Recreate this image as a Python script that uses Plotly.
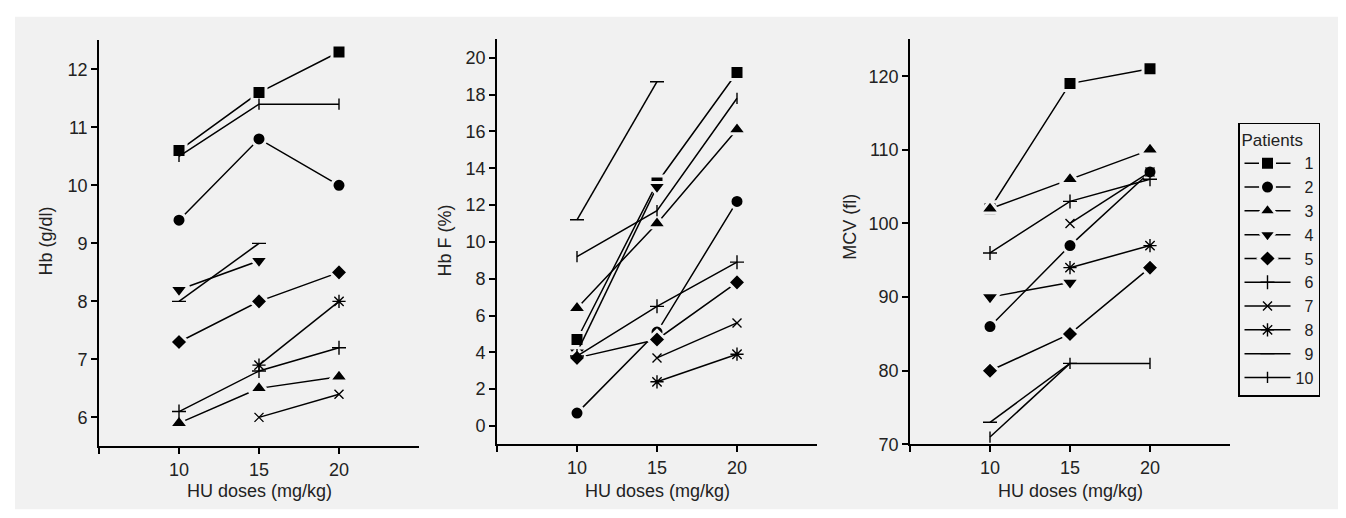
import plotly.graph_objects as go

W, H = 1346, 518

doses = [10, 15, 20]
patients = ["1", "2", "3", "4", "5", "6", "7", "8", "9", "10"]

# Hb (g/dl) per patient at 10, 15, 20 mg/kg
hb = [
    [10.6, 11.6, 12.3],
    [9.4, 10.8, 10.0],
    [5.9, 6.5, 6.7],
    [8.2, 8.7, None],
    [7.3, 8.0, 8.5],
    [6.1, 6.8, 7.2],
    [None, 6.0, 6.4],
    [None, 6.9, 8.0],
    [8.0, 9.0, None],
    [10.5, 11.4, 11.4],
]
# Hb F (%)
hbf = [
    [4.7, 13.2, 19.2],
    [0.7, 5.1, 12.2],
    [6.4, 11.0, 16.1],
    [4.0, 13.0, None],
    [3.7, 4.7, 7.8],
    [3.8, 6.5, 8.9],
    [None, 3.7, 5.6],
    [None, 2.4, 3.9],
    [11.2, 18.7, None],
    [9.2, 11.7, 17.8],
]
# MCV (fl)
mcv = [
    [102, 119, 121],
    [86, 97, 107],
    [102, 106, 110],
    [90, 92, None],
    [80, 85, 94],
    [96, 103, 106],
    [None, 100, 107],
    [None, 94, 97],
    [73, 81, None],
    [71, 81, 81],
]

BG = "#f1f1f1"
FONT = "Liberation Sans, Arial, sans-serif"
TXT = "#222"

# marker styles per patient: (symbol, size, filled)
styles = [
    ("square", 14, True),
    ("circle", 14, True),
    ("triangle-up", 17, True),
    ("triangle-down", 17, True),
    ("diamond", 14, True),
    ("cross-thin", 10, False),
    ("x-thin", 9, False),
    ("asterisk", 11, False),
    ("line-ew", 10, False),
    ("line-ns", 8, False),
]

fig = go.Figure()

panels = [(hb, "x", "y"), (hbf, "x2", "y2"), (mcv, "x3", "y3")]
for pi, (vals, xa, ya) in enumerate(panels):
    for i, name in enumerate(patients):
        sym, size, filled = styles[i]
        if filled:
            marker = dict(symbol=sym, size=size, color="black",
                          line=dict(color=BG, width=3))
        else:
            marker = dict(symbol=sym, size=size, color="black",
                          line=dict(color="black", width=1.4))
        label = name if len(name) == 2 else "\u2007" + name
        fig.add_trace(go.Scatter(
            x=doses, y=vals[i], xaxis=xa, yaxis=ya,
            mode="lines+markers", name=label,
            legendgroup=name, showlegend=(pi == 0),
            line=dict(color="black", width=1.5),
            marker=marker,
        ))

def px_x(p):
    return p / W

def px_y(p):
    return 1 - p / H

axis_common = dict(
    showline=True, linecolor="black", linewidth=1.6,
    ticks="outside", ticklen=6, tickwidth=1.6, tickcolor="black",
    showgrid=False, zeroline=False,
    tickfont=dict(family=FONT, size=18, color=TXT),
)

xcommon = dict(axis_common, range=[5, 25], tickvals=[5, 10, 15, 20],
               ticktext=["", "10", "15", "20"])

fig.update_layout(
    width=W, height=H,
    margin=dict(l=0, r=0, t=0, b=0),
    paper_bgcolor="white",
    plot_bgcolor="rgba(0,0,0,0)",
    font=dict(family=FONT, size=18, color=TXT),
    xaxis=dict(xcommon, domain=[px_x(91), px_x(411)], anchor="y"),
    yaxis=dict(axis_common, domain=[px_y(447), px_y(33)], anchor="x",
               range=[5.5, 12.5], tickvals=[6, 7, 8, 9, 10, 11, 12]),
    xaxis2=dict(xcommon, domain=[px_x(489), px_x(809)], anchor="y2"),
    yaxis2=dict(axis_common, domain=[px_y(445), px_y(32)], anchor="x2",
                range=[-1, 21], tickvals=list(range(0, 21, 2))),
    xaxis3=dict(xcommon, domain=[px_x(902), px_x(1222)], anchor="y3"),
    yaxis3=dict(axis_common, domain=[px_y(445), px_y(32)], anchor="x3",
                range=[70, 125], tickvals=[70, 80, 90, 100, 110, 120]),
    showlegend=True,
    legend=dict(
        x=px_x(1230), y=px_y(117), xanchor="left", yanchor="top",
        bgcolor=BG, bordercolor="black", borderwidth=1.5,
        font=dict(family=FONT, size=16, color=TXT),
        title=dict(text="Patients", font=dict(family=FONT, size=17, color=TXT)),
        itemwidth=46, tracegroupgap=0,
    ),
    shapes=[dict(type="rect", xref="paper", yref="paper",
                 x0=px_x(7), x1=px_x(1340), y0=px_y(511), y1=px_y(9),
                 fillcolor=BG, line=dict(width=0), layer="below")],
)

titles = [
    ("Hb (g/dl)", 38, 238, -90),
    ("Hb F (%)", 437, 237, -90),
    ("MCV (fl)", 842, 223, -90),
    ("HU doses (mg/kg)", 251, 493, 0),
    ("HU doses (mg/kg)", 649, 493, 0),
    ("HU doses (mg/kg)", 1062, 493, 0),
]
for text, x, y, ang in titles:
    fig.add_annotation(text=text, x=px_x(x), y=px_y(y), xref="paper", yref="paper",
                       showarrow=False, textangle=ang, xanchor="center", yanchor="middle",
                       font=dict(family=FONT, size=18, color=TXT))

fig.write_html("out.html")
